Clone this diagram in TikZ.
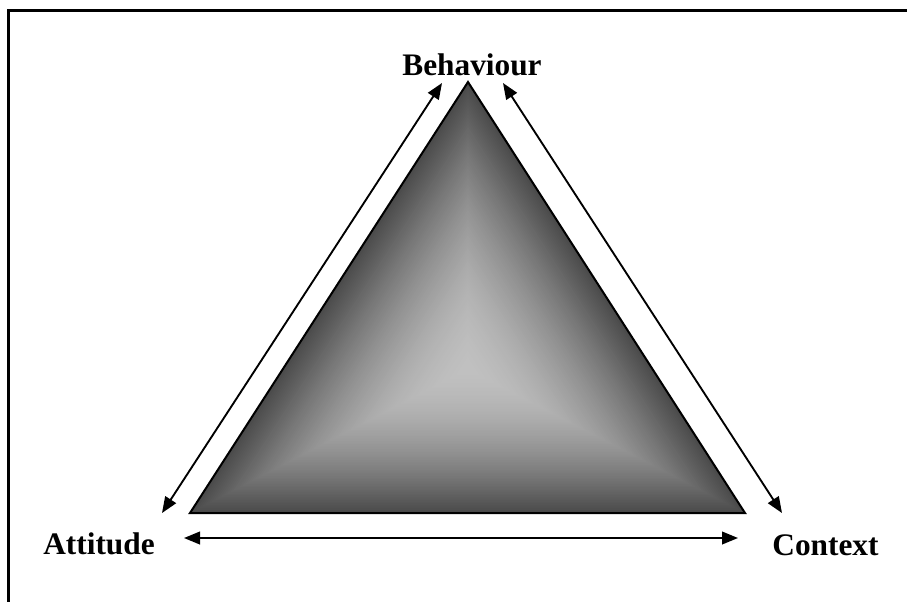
\documentclass[tikz,border=0pt]{standalone}
\usepackage{fontspec}
\setmainfont{Liberation Serif}
\usetikzlibrary{arrows.meta, calc}
\definecolor{tdark}{HTML}{4A4A4A}
\definecolor{tlight}{HTML}{C0C0C0}
\tikzset{
  corner/.style={font=\fontsize{23.5}{28}\selectfont\bfseries, anchor=base, inner sep=0pt},
  link/.style={{Triangle[length=12pt, width=9.5pt]}-{Triangle[length=12pt, width=9.5pt]}, line width=1.4pt},
  frame/.style={line width=1.8pt},
}

\begin{document}
\begin{tikzpicture}[x=0.75pt, y=-0.75pt]
  \useasboundingbox (0,0) rectangle (907,601);
  % page frame, only top and left edges show
  \draw[frame] (8.5,620) -- (8.5,10.5) -- (920,10.5);

  % triangle corners
  \coordinate (apex) at (468,82);
  \coordinate (bl) at (190,513);
  \coordinate (br) at (745,513);
  \coordinate (cen) at ($1/3*(apex)+1/3*(bl)+1/3*(br)$);

  % shaded body: nested triangles, dark rim to light centre
  \foreach \i in {0,...,90}{
    \pgfmathsetmacro\s{1-\i/90}
    \pgfmathsetmacro\p{100*\s^1.7}
    \fill[tdark!\p!tlight] ($(cen)!\s!(apex)$) -- ($(cen)!\s!(bl)$) -- ($(cen)!\s!(br)$) -- cycle;
  }
  \draw[line width=1.5pt, line join=miter] (apex) -- (bl) -- (br) -- cycle;

  % labels
  \node[corner] (beh) at (472,75) {Behaviour};
  \node[corner] (att) at (99,554) {Attitude};
  \node[corner] (ctx) at (825.5,555) {Context};

  % arrow ends
  \coordinate (lt) at (442,83);
  \coordinate (lb) at (162,513);
  \coordinate (rt) at (503,83);
  \coordinate (rb) at (782,513);
  \coordinate (ha) at (184,538);
  \coordinate (hc) at (738,538);

  \draw[link] (lb) -- (lt);
  \draw[link] (rt) -- (rb);
  \draw[link] (ha) -- (hc);
\end{tikzpicture}
\end{document}
